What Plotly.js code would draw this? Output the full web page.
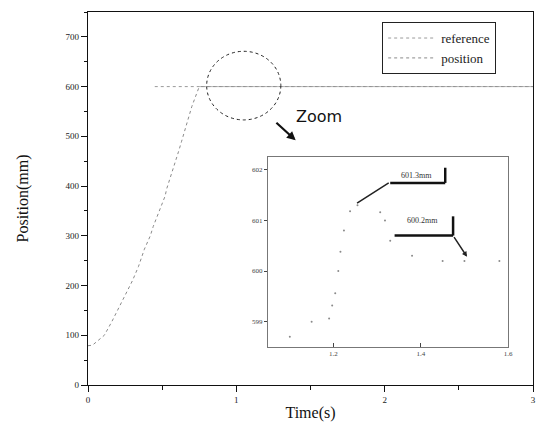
<!DOCTYPE html>
<html>
<head>
<meta charset="utf-8">
<script src="https://cdn.plot.ly/plotly-3.0.1.min.js"></script>
<style>html,body{margin:0;padding:0;background:#fff;}#chart{width:537px;height:431px;}</style>
</head>
<body>
<div id="chart"></div>
<script>
// Main chart data
const timeMain = [0, 0.03, 0.11, 0.16, 0.30, 0.34, 0.38, 0.42, 0.44, 0.49, 0.52, 0.53, 0.55, 0.57, 0.59, 0.61, 0.63, 0.70, 0.75, 1.0, 1.5, 2.0, 2.5, 3.0];
const positionMain = [79, 80, 100, 127, 210, 238, 273, 300, 319, 358, 380, 394, 412, 430, 450, 469, 489, 560, 600, 600, 600, 600, 600, 600];
const timeRef = [0.45, 3.0];
const referenceVal = [600, 600];

// Inset (zoom) data
const timeZoom = [1.10, 1.15, 1.19, 1.197, 1.204, 1.211, 1.216, 1.224, 1.238, 1.255, 1.307, 1.318, 1.33, 1.38, 1.45, 1.50, 1.58];
const positionZoom = [598.7, 599.0, 599.06, 599.32, 599.56, 600.0, 600.38, 600.8, 601.18, 601.3, 601.16, 601.0, 600.6, 600.3, 600.2, 600.2, 600.2];

// Tick labels
const mainYTicks = [0, 100, 200, 300, 400, 500, 600, 700];
const mainXTicks = [0, 1, 2, 3];
const zoomYTicks = [599, 600, 601, 602];
const zoomXTicks = [1.2, 1.4, 1.6];

const serif = "Liberation Serif, Times New Roman, serif";

const traces = [
  {x: timeRef, y: referenceVal, mode: 'lines', name: 'reference',
   line: {color: '#9a9a9a', width: 1, dash: 'dot'}, xaxis: 'x', yaxis: 'y'},
  {x: timeMain, y: positionMain, mode: 'lines', name: 'position',
   line: {color: '#8a8a8a', width: 1, dash: 'dot'}, xaxis: 'x', yaxis: 'y'},
  {x: timeZoom, y: positionZoom, mode: 'markers', showlegend: false,
   marker: {color: '#8a8a8a', size: 2}, xaxis: 'x2', yaxis: 'y2'}
];

const layout = {
  width: 537, height: 431,
  margin: {l: 88, r: 4, t: 12, b: 46},
  paper_bgcolor: '#fff', plot_bgcolor: '#fff',
  font: {family: serif, color: '#111', size: 9},
  showlegend: true,
  legend: {x: 0.661, y: 0.973, xanchor: 'left', yanchor: 'top',
    bordercolor: '#222', borderwidth: 1, bgcolor: '#fff',
    font: {family: serif, size: 13, color: '#222'}, itemwidth: 48,
    tracegroupgap: 0},
  xaxis: {domain: [0, 1], range: [0, 3], tickvals: mainXTicks, ticktext: mainXTicks.map(String),
    ticks: 'outside', ticklen: 6, tickcolor: '#111', showline: true, linecolor: '#111', linewidth: 1.3,
    mirror: true, showgrid: false, zeroline: false,
    minor: {dtick: 0.5, ticks: 'outside', ticklen: 4, tickcolor: '#111'},
    tickfont: {family: serif, size: 9, color: '#222'},
    title: {text: 'Time(s)', font: {family: serif, size: 16, color: '#111'}, standoff: 2},
    automargin: false},
  yaxis: {domain: [0, 1], range: [0, 750], tickvals: mainYTicks, ticktext: mainYTicks.map(String),
    ticks: 'outside', ticklen: 6, tickcolor: '#111', showline: true, linecolor: '#111', linewidth: 1.3,
    mirror: true, showgrid: false, zeroline: false,
    minor: {dtick: 50, ticks: 'outside', ticklen: 3, tickcolor: '#111'},
    tickfont: {family: serif, size: 9, color: '#222'},
    title: {text: 'Position(mm)', font: {family: serif, size: 16, color: '#111'}, standoff: 32},
    automargin: false},
  xaxis2: {domain: [0.4045, 0.944], anchor: 'y2', range: [1.05, 1.6], tickvals: zoomXTicks,
    ticktext: zoomXTicks.map(v => v.toFixed(1)),
    ticks: 'inside', ticklen: 4, tickcolor: '#444', showline: true, linecolor: '#777', linewidth: 1,
    mirror: true, showgrid: false, zeroline: false,
    tickfont: {family: serif, size: 7, color: '#444'}, automargin: false},
  yaxis2: {domain: [0.102, 0.611], anchor: 'x2', range: [598.5, 602.25], tickvals: zoomYTicks,
    ticktext: zoomYTicks.map(String),
    ticks: 'outside', ticklen: 3, tickcolor: '#444', showline: true, linecolor: '#777', linewidth: 1,
    mirror: true, showgrid: false, zeroline: false,
    tickfont: {family: serif, size: 7, color: '#444'}, automargin: false},
  shapes: [
    // zoom circle
    {type: 'circle', xref: 'x', yref: 'y', x0: 0.80, x1: 1.30, y0: 533, y1: 671,
     line: {color: '#222', width: 1, dash: 'dot'}},
    // 601.3mm box shadow
    {type: 'line', xref: 'x2', yref: 'y2', x0: 1.456, x1: 1.456, y0: 601.74, y1: 602.04, line: {color: '#111', width: 2.5}},
    {type: 'line', xref: 'x2', yref: 'y2', x0: 1.33, x1: 1.456, y0: 601.74, y1: 601.74, line: {color: '#111', width: 2.5}},
    // 600.2mm box shadow
    {type: 'line', xref: 'x2', yref: 'y2', x0: 1.474, x1: 1.474, y0: 600.7, y1: 601.08, line: {color: '#111', width: 2.5}},
    {type: 'line', xref: 'x2', yref: 'y2', x0: 1.34, x1: 1.474, y0: 600.7, y1: 600.7, line: {color: '#111', width: 2.5}}
  ],
  annotations: [
    {xref: 'x', yref: 'y', axref: 'x', ayref: 'y', x: 1.40, y: 492, ax: 1.26, ay: 530,
     showarrow: true, arrowhead: 2, arrowsize: 0.8, arrowwidth: 2.2, arrowcolor: '#111', text: ''},
    {xref: 'x', yref: 'y', x: 1.39, y: 540, text: 'Zoom', showarrow: false, xanchor: 'left',
     font: {family: 'DejaVu Sans, sans-serif', size: 16, color: '#111'}},
    {xref: 'x2', yref: 'y2', x: 1.39, y: 601.89, text: '601.3mm', showarrow: false,
     font: {family: serif, size: 8, color: '#333'}},
    {xref: 'x2', yref: 'y2', axref: 'x2', ayref: 'y2', x: 1.254, y: 601.34, ax: 1.33, ay: 601.76,
     showarrow: true, arrowhead: 0, arrowwidth: 1.5, arrowcolor: '#222', text: ''},
    {xref: 'x2', yref: 'y2', x: 1.405, y: 600.99, text: '600.2mm', showarrow: false,
     font: {family: serif, size: 8, color: '#333'}},
    {xref: 'x2', yref: 'y2', axref: 'x2', ayref: 'y2', x: 1.506, y: 600.28, ax: 1.474, ay: 600.7,
     showarrow: true, arrowhead: 2, arrowsize: 0.7, arrowwidth: 1.5, arrowcolor: '#222', text: ''}
  ]
};

Plotly.newPlot('chart', traces, layout, {displayModeBar: false, staticPlot: true});
</script>
</body>
</html>
